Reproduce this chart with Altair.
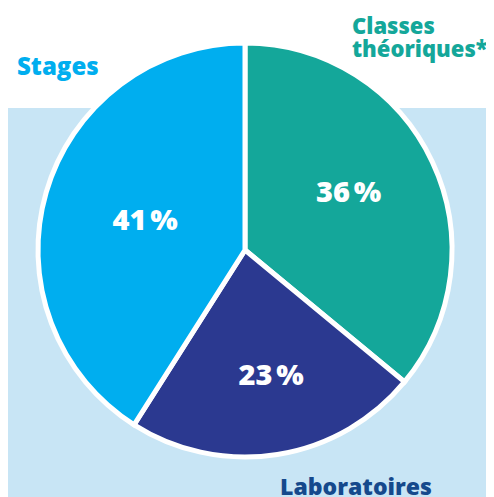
import altair as alt
import pandas as pd

categories = ["Classes théoriques*", "Laboratoires", "Stages"]
shares = [36, 23, 41]
pct_labels = ["36\u202f%", "23\u202f%", "41\u202f%"]
slice_colors = ["#14a79a", "#2b3990", "#00aeef"]
name_colors = ["#14a79a", "#15498c", "#00aeef"]

df = pd.DataFrame({
    "cat": categories,
    "share": shares,
    "label": pct_labels,
    "rank": list(range(len(categories))),
})

W, H = 478, 489
CX, CY = 237, 242
FONT = "Open Sans"

bg = alt.Chart(pd.DataFrame({"k": [0]})).mark_rect(color="#c8e5f5").encode(
    x=alt.value(0), x2=alt.value(W), y=alt.value(100), y2=alt.value(H)
)

base = alt.Chart(df).encode(
    theta=alt.Theta("share:Q", stack=True),
    order=alt.Order("rank:Q"),
    x=alt.value(CX),
    y=alt.value(CY),
)

pie = base.mark_arc(outerRadius=207, stroke="white", strokeWidth=5).encode(
    color=alt.Color("cat:N", scale=alt.Scale(domain=categories, range=slice_colors), legend=None)
)

label_pos = {
    "Classes théoriques*": dict(r=119, dx=-4, dy=-6),
    "Laboratoires": dict(r=129, dx=6, dy=-1),
    "Stages": dict(r=104, dx=0, dy=0),
}
pct_layers = []
for cat, p in label_pos.items():
    pct_layers.append(
        base.transform_calculate(t=f"datum.cat == '{cat}' ? datum.label : ''")
        .mark_text(radius=p["r"], dx=p["dx"], dy=p["dy"], font=FONT, fontWeight=800,
                   fontSize=29, color="white")
        .encode(text="t:N")
    )

name_pos = {
    "Classes théoriques*": dict(x=344, y=26, align="left", size=22),
    "Laboratoires": dict(x=348, y=487, align="center", size=23),
    "Stages": dict(x=9, y=67, align="left", size=24),
}
name_layers = []
for cat, col in zip(categories, name_colors):
    p = name_pos[cat]
    name_layers.append(
        alt.Chart(df).transform_filter(f"datum.cat == '{cat}'")
        .mark_text(font=FONT, fontWeight=800, fontSize=p["size"], color=col,
                   align=p["align"], baseline="alphabetic", lineBreak=" ", lineHeight=23)
        .encode(text="cat:N", x=alt.value(p["x"]), y=alt.value(p["y"]))
    )

chart = alt.layer(bg, pie, *pct_layers, *name_layers).properties(
    width=W, height=H, padding=0, autosize=alt.AutoSizeParams(type="none")
).configure_view(stroke=None)

chart.save("out.html", embed_options={"renderer": "svg", "actions": False})
